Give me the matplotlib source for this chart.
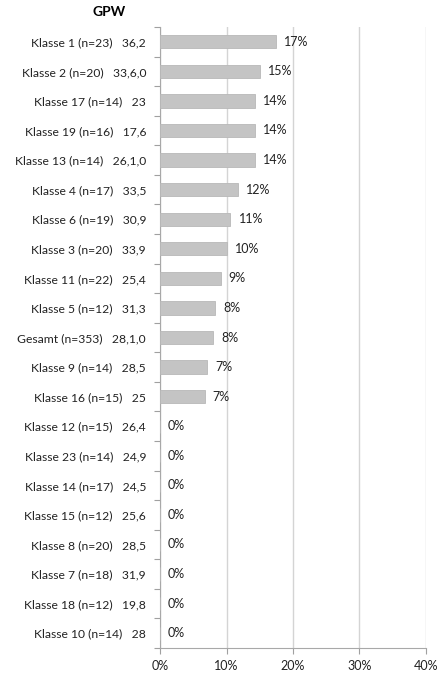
import matplotlib.pyplot as plt
from matplotlib.ticker import FixedLocator

plt.rcParams['font.family'] = ['Lato', 'DejaVu Sans']

# categories (top to bottom), mean score and share per class
klassen = ["Klasse 1 (n=23)", "Klasse 2 (n=20)", "Klasse 17 (n=14)", "Klasse 19 (n=16)",
           "Klasse 13 (n=14)", "Klasse 4 (n=17)", "Klasse 6 (n=19)", "Klasse 3 (n=20)",
           "Klasse 11 (n=22)", "Klasse 5 (n=12)", "Gesamt (n=353)", "Klasse 9 (n=14)",
           "Klasse 16 (n=15)", "Klasse 12 (n=15)", "Klasse 23 (n=14)", "Klasse 14 (n=17)",
           "Klasse 15 (n=12)", "Klasse 8 (n=20)", "Klasse 7 (n=18)", "Klasse 18 (n=12)",
           "Klasse 10 (n=14)"]
mittel = ["36,2", "33,6,0", "23", "17,6", "26,1,0", "33,5", "30,9", "33,9", "25,4", "31,3",
          "28,1,0", "28,5", "25", "26,4", "24,9", "24,5", "25,6", "28,5", "31,9", "19,8", "28"]
anteil = [17.4, 15.0, 14.3, 14.3, 14.3, 11.8, 10.6, 10.0, 9.1, 8.3, 8.0, 7.1, 6.7,
          0, 0, 0, 0, 0, 0, 0, 0]
x_ticks = [0, 10, 20, 30, 40]

fig = plt.figure(figsize=(4.46, 6.75), dpi=100)
ax = fig.add_axes([160 / 446, 27 / 675, 266 / 446, 621 / 675])

ypos = list(range(len(klassen)))
ax.barh(ypos, anteil, height=0.45, color="#c4c4c4", edgecolor="#b8b8b8", linewidth=0.6, zorder=3)
for y, v in zip(ypos, anteil):
    ax.text(v + 1.2, y, f"{v:.0f}%", va="center", ha="left", fontsize=9, color="#222222")

ax.set_ylim(len(klassen) - 0.5, -0.5)
ax.set_xlim(0, 40)
ax.set_yticks(ypos)
ax.set_yticklabels([f"{k}   {m}" for k, m in zip(klassen, mittel)], fontsize=8.7, color="#222222")
ax.yaxis.set_minor_locator(FixedLocator([i - 0.5 for i in range(len(klassen) + 1)]))
ax.tick_params(axis="y", which="major", length=0, pad=10)
ax.tick_params(axis="y", which="minor", length=4, color="#a0a0a0", width=0.8)

ax.set_xticks(x_ticks)
ax.set_xticklabels([f"{t}%" for t in x_ticks], fontsize=9, color="#222222")
ax.tick_params(axis="x", length=4, color="#a0a0a0", width=0.8, pad=5)
ax.grid(axis="x", color="#d4d4d4", linewidth=1, zorder=0)

for side in ["top", "right"]:
    ax.spines[side].set_visible(False)
for side in ["left", "bottom"]:
    ax.spines[side].set_color("#a8a8a8")
    ax.spines[side].set_linewidth(0.8)

fig.text(109 / 446, 1 - 12 / 675, "GPW", ha="center", va="center", fontsize=10, fontweight="bold")

fig.savefig("out.png", dpi=100, facecolor="white")
